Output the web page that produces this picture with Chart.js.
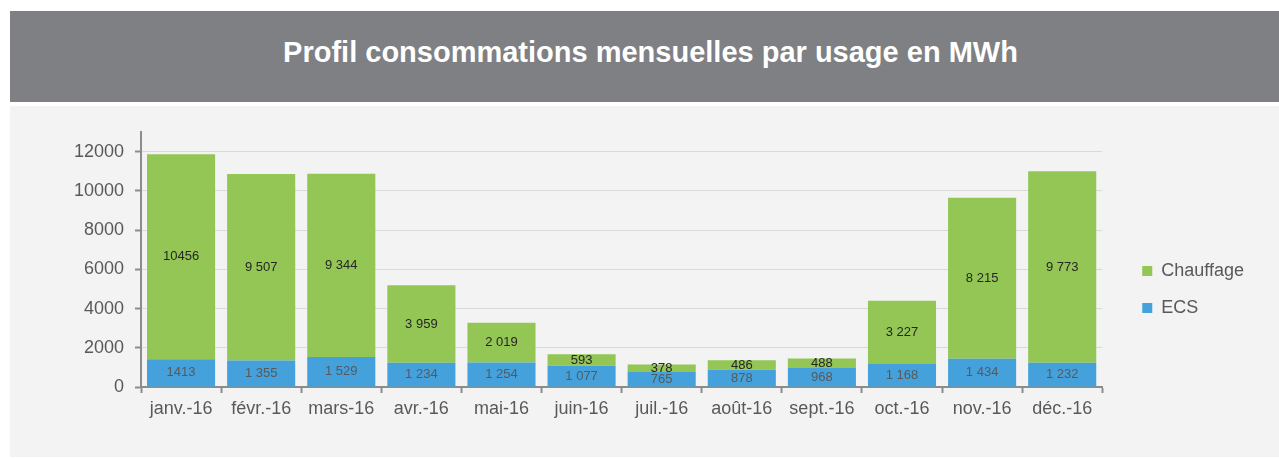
<!DOCTYPE html>
<html lang="fr">
<head>
  <meta charset="UTF-8">
  <title>Profil consommations mensuelles</title>
  <style>
    body {
      margin: 0;
      background: #ffffff;
      font-family: 'Liberation Sans', Arial, sans-serif;
      width: 1279px;
      height: 458px;
      position: relative;
      overflow: hidden;
    }
    .header {
      position: absolute;
      left: 10px;
      top: 11px;
      width: 1269px;
      height: 91px;
      background: #7e8083;
      color: #ffffff;
      font-weight: bold;
      font-size: 29px;
      line-height: 82px;
      text-align: center;
      text-indent: 12px;
    }
    .panel {
      position: absolute;
      left: 10px;
      top: 106px;
      width: 1269px;
      height: 351px;
      background: #f3f3f3;
    }
  </style>
  <script src="https://cdn.jsdelivr.net/npm/chart.js"></script>
</head>
<body>
  <div class="header">Profil consommations mensuelles par usage en MWh</div>
  <div class="panel">
    <canvas id="usageChart" width="1269" height="351"></canvas>
  </div>

  <script>
    const months = ['janv.-16', 'févr.-16', 'mars-16', 'avr.-16', 'mai-16', 'juin-16',
                    'juil.-16', 'août-16', 'sept.-16', 'oct.-16', 'nov.-16', 'déc.-16'];
    const ecs = [1413, 1355, 1529, 1234, 1254, 1077, 765, 878, 968, 1168, 1434, 1232];
    const chauffage = [10456, 9507, 9344, 3959, 2019, 593, 378, 486, 488, 3227, 8215, 9773];
    const yTicks = [0, 2000, 4000, 6000, 8000, 10000, 12000];

    const FONT = "'Liberation Sans', Arial, sans-serif";
    const AXIS = '#8c8c8c';

    // january labels have no thousands separator in the original
    function fmt(v, i) {
      if (i === 0) return String(v);
      return String(v).replace(/\B(?=(\d{3})+(?!\d))/g, ' ');
    }

    const segmentLabels = {
      id: 'segmentLabels',
      afterDatasetsDraw(chart) {
        const ctx = chart.ctx;
        ctx.save();
        ctx.font = '13px ' + FONT;
        ctx.textAlign = 'center';
        ctx.textBaseline = 'middle';
        chart.data.datasets.forEach((ds, di) => {
          const meta = chart.getDatasetMeta(di);
          ctx.fillStyle = ds.labelColor;
          meta.data.forEach((bar, i) => {
            const y = (bar.y + bar.base) / 2;
            ctx.fillText(fmt(ds.data[i], i), bar.x, y);
          });
        });
        ctx.restore();
      }
    };

    new Chart(document.getElementById('usageChart'), {
      type: 'bar',
      data: {
        labels: months,
        datasets: [
          { label: 'ECS', data: ecs, backgroundColor: '#44a1db', labelColor: '#595959',
            barPercentage: 0.85, categoryPercentage: 1 },
          { label: 'Chauffage', data: chauffage, backgroundColor: '#93c655', labelColor: '#262626',
            barPercentage: 0.85, categoryPercentage: 1 }
        ]
      },
      options: {
        responsive: false,
        animation: false,
        layout: { padding: { top: 26, bottom: 10, left: 0, right: 25 } },
        plugins: {
          tooltip: { enabled: false },
          legend: {
            position: 'right',
            reverse: true,
            labels: {
              boxWidth: 10,
              boxHeight: 10,
              padding: 19,
              color: '#595959',
              font: { family: FONT, size: 18 }
            }
          }
        },
        scales: {
          x: {
            stacked: true,
            grid: { offset: true, drawOnChartArea: false, tickLength: 6, tickColor: AXIS, tickWidth: 2 },
            border: { color: AXIS, width: 2 },
            ticks: { color: '#595959', padding: 5, font: { family: FONT, size: 18 }, maxRotation: 0 },
            afterFit: s => { s.height = 60; }
          },
          y: {
            stacked: true,
            min: 0,
            max: 13000,
            afterBuildTicks: s => { s.ticks = yTicks.concat([13000]).map(v => ({ value: v })); },
            grid: {
              color: c => c.tick && c.tick.value === 13000 ? 'rgba(0,0,0,0)' : '#d9d9d9',
              tickColor: c => c.tick && c.tick.value === 13000 ? 'rgba(0,0,0,0)' : AXIS,
              tickLength: 6,
              tickWidth: 2
            },
            border: { color: AXIS, width: 2 },
            ticks: {
              color: '#595959',
              padding: 11,
              font: { family: FONT, size: 18 },
              callback: v => v === 13000 ? '' : v
            },
            afterFit: s => { s.width = 131; }
          },
          gap: {
            type: 'linear',
            position: 'right',
            display: true,
            grid: { display: false },
            border: { display: false },
            ticks: { display: false },
            afterFit: s => { s.width = 21; }
          }
        }
      },
      plugins: [segmentLabels]
    });
  </script>
</body>
</html>
